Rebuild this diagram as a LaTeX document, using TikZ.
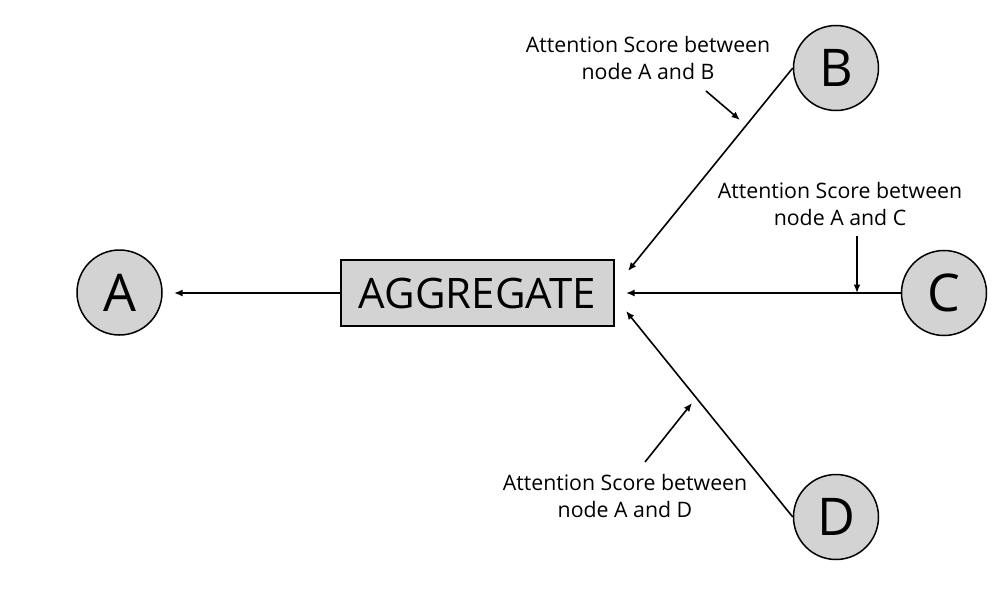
\documentclass[tikz,border=0pt]{standalone}
\usepackage{fontspec}
\setmainfont{Open Sans}
\usetikzlibrary{arrows.meta}
\definecolor{nodegray}{RGB}{211,211,211}
\tikzset{
  circnode/.style={circle, draw=black, line width=1.5pt, fill=nodegray, minimum size=85pt, inner sep=0pt, font=\fontsize{52}{52}\selectfont},
  aggbox/.style={rectangle, draw=black, line width=1.5pt, fill=nodegray, minimum width=273pt, minimum height=66pt, inner sep=0pt, font=\fontsize{42}{42}\selectfont},
  lbl/.style={align=center, font=\fontsize{21.3}{26.5}\selectfont},
  conn/.style={line width=1.6pt, -{Latex[length=8.5pt,width=7pt]}},
}
\begin{document}
\begin{tikzpicture}[x=1pt,y=-1pt]
\useasboundingbox (0,0) rectangle (999,605);
% nodes
\node[circnode] (A) at (119.5,292.5) {A};
\node[circnode] (B) at (836,68) {B};
\node[circnode] (C) at (944,293) {C};
\node[circnode] (D) at (836,517) {D};
\node[aggbox] (agg) at (477.5,293) {AGGREGATE};
% connector ends
\coordinate (tA) at (174,293);
\coordinate (tB) at (628,271);
\coordinate (tC) at (626,293);
\coordinate (tD) at (626,311);
% main connectors
\draw[conn] (agg.west) -- (tA);
\draw[conn] (B.west) -- (tB);
\draw[conn] (C.west) -- (tC);
\draw[conn] (D.west) -- (tD);
% labels
\node[lbl] (lB) at (648,58) {Attention Score between\\node A and B};
\node[lbl] (lC) at (840,204) {Attention Score between\\node A and C};
\node[lbl] (lD) at (625,496) {Attention Score between\\node A and D};
% annotation arrows
\coordinate (sB) at (706,91);
\coordinate (eB) at (740,120);
\coordinate (sC) at (857,236);
\coordinate (eC) at (857,293);
\coordinate (sD) at (645,462);
\coordinate (eD) at (692,403);
\draw[conn] (sB) -- (eB);
\draw[conn] (sC) -- (eC);
\draw[conn] (sD) -- (eD);
\end{tikzpicture}
\end{document}
